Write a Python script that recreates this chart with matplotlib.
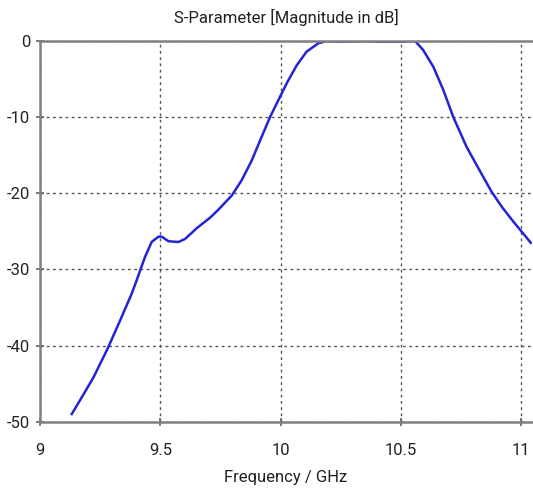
import matplotlib
matplotlib.use("Agg")
import matplotlib.pyplot as plt

freq_ghz = [9.132, 9.166, 9.222, 9.284, 9.333, 9.381, 9.402, 9.436, 9.464, 9.492,
            9.506, 9.534, 9.575, 9.603, 9.651, 9.707, 9.740, 9.797, 9.838, 9.880,
            9.921, 9.956, 9.998, 10.028, 10.067, 10.108, 10.157, 10.192, 10.260,
            10.337, 10.420, 10.500, 10.559, 10.593, 10.635, 10.676, 10.718, 10.773,
            10.829, 10.877, 10.920, 10.967, 11.040]
s_db = [-49.0, -47.2, -44.2, -40.2, -36.7, -33.2, -31.4, -28.4, -26.4, -25.7,
        -25.7, -26.3, -26.4, -26.0, -24.6, -23.2, -22.2, -20.3, -18.3, -15.7,
        -12.6, -10.0, -7.3, -5.4, -3.2, -1.4, -0.3, 0.0, -0.1,
        0.0, -0.1, -0.1, 0.0, -1.2, -3.4, -6.4, -10.0, -13.9,
        -17.1, -19.8, -21.8, -23.7, -26.5]

xticks = [9, 9.5, 10, 10.5, 11]
xtick_labels = ["9", "9.5", "10", "10.5", "11"]
yticks = [0, -10, -20, -30, -40, -50]
ytick_labels = ["0", "-10", "-20", "-30", "-40", "-50"]

plt.rcParams['font.family'] = ['Roboto', 'DejaVu Sans']
fig = plt.figure(figsize=(5.33, 4.88), dpi=100)
ax = fig.add_axes([40/533, (488-421.7)/488, 492/533, 380.7/488])
ax.plot(freq_ghz, s_db, color='#2323d8', lw=1.8)
ax.set_xlim(9, 11.045)
ax.set_ylim(-50, 0)
ax.set_xticks(xticks)
ax.set_xticklabels(xtick_labels)
ax.set_yticks(yticks)
ax.set_yticklabels(ytick_labels)
ax.grid(True, color='#555555', linestyle=(0, (2, 2.5)), linewidth=1.0)
for s in ['left', 'bottom', 'top']:
    ax.spines[s].set_color('#808080')
    ax.spines[s].set_linewidth(1.8)
ax.spines['right'].set_visible(False)
ax.tick_params(direction='inout', length=6, width=1.2, color='#606060',
               labelsize=12, labelcolor='#222222')
ax.tick_params(axis='x', pad=12)
ax.tick_params(axis='y', pad=4)
ax.set_title('S-Parameter [Magnitude in dB]', fontsize=12, color='#222222', pad=13)
ax.set_xlabel('Frequency / GHz', fontsize=12, color='#222222', labelpad=9)
fig.savefig('out.png', dpi=100)
